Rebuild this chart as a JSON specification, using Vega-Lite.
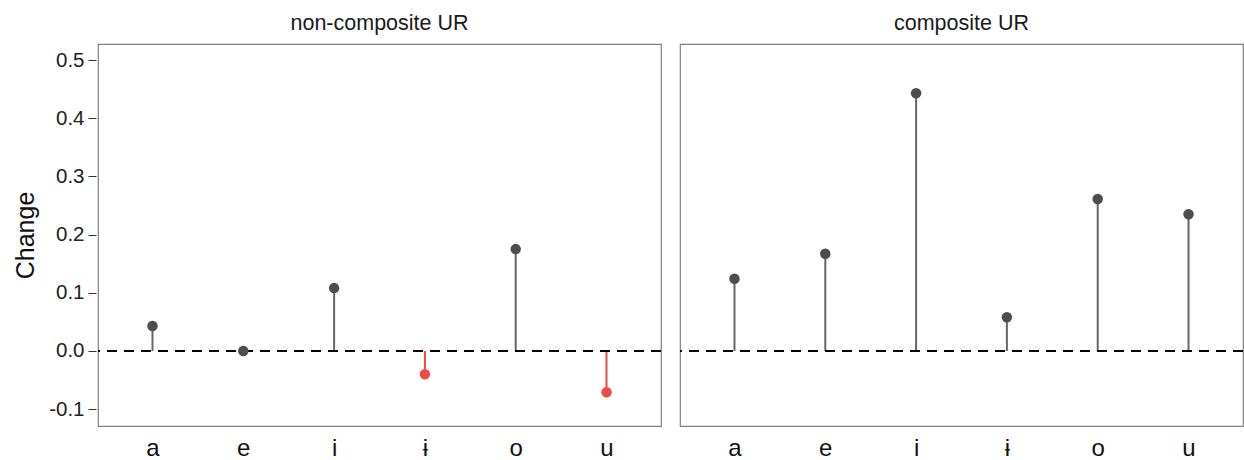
{
  "$schema": "https://vega.github.io/schema/vega-lite/v6.json",
  "padding": {"left": 13, "top": 12, "right": 0, "bottom": 0},
  "background": "white",
  "data": {
    "values": [
      {"panel": "non-composite UR", "vowel": "a", "change": 0.043},
      {"panel": "non-composite UR", "vowel": "e", "change": 0.0},
      {"panel": "non-composite UR", "vowel": "i", "change": 0.108},
      {"panel": "non-composite UR", "vowel": "ɨ", "change": -0.040},
      {"panel": "non-composite UR", "vowel": "o", "change": 0.175},
      {"panel": "non-composite UR", "vowel": "u", "change": -0.071},
      {"panel": "composite UR", "vowel": "a", "change": 0.124},
      {"panel": "composite UR", "vowel": "e", "change": 0.167},
      {"panel": "composite UR", "vowel": "i", "change": 0.443},
      {"panel": "composite UR", "vowel": "ɨ", "change": 0.058},
      {"panel": "composite UR", "vowel": "o", "change": 0.261},
      {"panel": "composite UR", "vowel": "u", "change": 0.235}
    ]
  },
  "facet": {
    "column": {
      "field": "panel",
      "type": "nominal",
      "sort": ["non-composite UR", "composite UR"],
      "header": {"title": null, "labelFontSize": 21.5, "labelColor": "#1a1a1a", "labelFont": "Liberation Sans", "labelPadding": 9}
    }
  },
  "spacing": 15,
  "spec": {
    "width": 563,
    "height": 382,
    "layer": [
      {
        "mark": {"type": "rule", "strokeWidth": 2},
        "encoding": {
          "x": {"field": "vowel", "type": "nominal", "sort": ["a", "e", "i", "ɨ", "o", "u"], "scale": {"type": "point", "padding": 0.6},
            "axis": {"title": null, "labelAngle": 0, "labelFontSize": 24, "labelColor": "#111111", "ticks": false, "domain": false, "labelPadding": 9, "grid": false, "labelFont": "Liberation Sans"}},
          "y": {"field": "change", "type": "quantitative",
            "scale": {"domain": [-0.129, 0.5275], "nice": false, "zero": false},
            "axis": {"title": "Change", "titleFontSize": 25, "titleFontWeight": "normal", "titleColor": "#111111", "titleFont": "Liberation Sans", "titlePadding": 10, "values": [-0.1, 0, 0.1, 0.2, 0.3, 0.4, 0.5], "format": ".1f", "labelExpr": "replace(datum.label, '−', '-')", "labelFontSize": 20.5, "labelColor": "#222222", "labelFont": "Liberation Sans", "tickColor": "#333333", "tickSize": 8, "domain": false, "grid": false, "labelPadding": 4}},
          "y2": {"datum": 0},
          "color": {"condition": {"test": "datum.change < 0", "value": "#ee4b46"}, "value": "#666666"}
        }
      },
      {
        "mark": {"type": "rule", "color": "black", "strokeWidth": 2, "strokeDash": [10, 7]},
        "encoding": {"y": {"datum": 0, "type": "quantitative"}}
      },
      {
        "mark": {"type": "point", "filled": true, "size": 110, "opacity": 1},
        "encoding": {
          "x": {"field": "vowel", "type": "nominal", "sort": ["a", "e", "i", "ɨ", "o", "u"]},
          "y": {"field": "change", "type": "quantitative"},
          "color": {"condition": {"test": "datum.change < 0", "value": "#ee4b46"}, "value": "#4d4d4d"}
        }
      }
    ]
  },
  "resolve": {"scale": {"y": "shared"}},
  "config": {
    "view": {"stroke": "#808080", "strokeWidth": 1.2},
    "axis": {"grid": false}
  }
}
